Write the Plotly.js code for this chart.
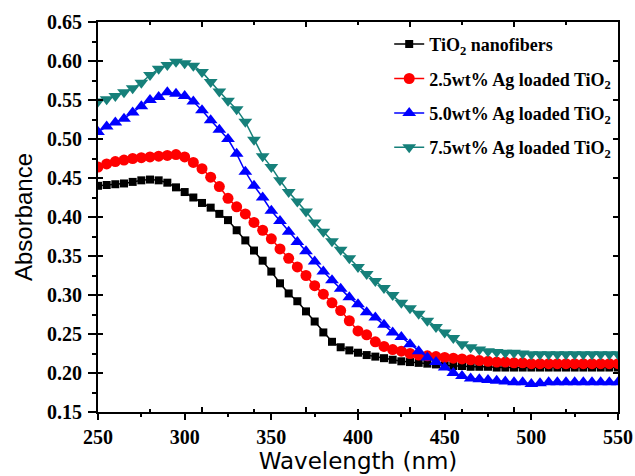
<!DOCTYPE html>
<html>
<head>
<meta charset="utf-8">
<script src="https://cdn.plot.ly/plotly-3.0.1.min.js"></script>
<style>
  html, body { margin: 0; padding: 0; background: #fff; }
  #chart { width: 635px; height: 476px; }
</style>
</head>
<body>
<div id="chart"></div>
<script>
const wavelength = [250,255,260,265,270,275,280,285,290,295,300,305,310,315,320,325,330,335,340,345,350,355,360,365,370,375,380,385,390,395,400,405,410,415,420,425,430,435,440,445,450,455,460,465,470,475,480,485,490,495,500,505,510,515,520,525,530,535,540,545,550];

const tio2 = [0.440,0.441,0.442,0.443,0.445,0.447,0.448,0.447,0.444,0.438,0.432,0.425,0.418,0.412,0.404,0.396,0.383,0.370,0.357,0.344,0.330,0.315,0.302,0.292,0.279,0.266,0.252,0.240,0.233,0.229,0.226,0.223,0.221,0.219,0.217,0.215,0.214,0.213,0.212,0.211,0.210,0.209,0.209,0.208,0.208,0.208,0.207,0.207,0.207,0.207,0.207,0.207,0.207,0.207,0.207,0.207,0.207,0.207,0.207,0.207,0.207];

const ag25 = [0.464,0.468,0.471,0.473,0.475,0.476,0.477,0.478,0.479,0.480,0.477,0.470,0.462,0.451,0.439,0.424,0.413,0.404,0.393,0.383,0.372,0.359,0.347,0.336,0.325,0.312,0.301,0.290,0.280,0.267,0.254,0.249,0.240,0.234,0.230,0.228,0.225,0.223,0.222,0.221,0.220,0.219,0.218,0.217,0.216,0.215,0.214,0.214,0.213,0.213,0.212,0.212,0.212,0.212,0.212,0.212,0.212,0.212,0.212,0.212,0.212];

const ag50 = [0.509,0.516,0.521,0.526,0.534,0.542,0.550,0.554,0.560,0.558,0.555,0.548,0.537,0.524,0.512,0.500,0.481,0.458,0.440,0.425,0.408,0.395,0.381,0.368,0.356,0.343,0.330,0.319,0.308,0.297,0.288,0.278,0.271,0.262,0.252,0.246,0.237,0.228,0.220,0.214,0.207,0.200,0.196,0.193,0.192,0.191,0.190,0.189,0.188,0.188,0.186,0.187,0.188,0.188,0.188,0.188,0.188,0.188,0.188,0.188,0.188];

const ag75 = [0.548,0.551,0.555,0.560,0.565,0.572,0.582,0.590,0.595,0.599,0.597,0.594,0.586,0.573,0.561,0.549,0.538,0.522,0.499,0.478,0.464,0.447,0.432,0.420,0.407,0.393,0.381,0.369,0.358,0.347,0.336,0.327,0.318,0.309,0.300,0.290,0.283,0.276,0.267,0.259,0.252,0.245,0.237,0.233,0.230,0.228,0.227,0.226,0.226,0.225,0.224,0.224,0.224,0.224,0.224,0.224,0.224,0.224,0.224,0.224,0.224];

const xTickValues = [250, 300, 350, 400, 450, 500, 550];
const xTickLabels = ['250', '300', '350', '400', '450', '500', '550'];
const yTickValues = [0.15, 0.20, 0.25, 0.30, 0.35, 0.40, 0.45, 0.50, 0.55, 0.60, 0.65];
const yTickLabels = ['0.15', '0.20', '0.25', '0.30', '0.35', '0.40', '0.45', '0.50', '0.55', '0.60', '0.65'];

const seriesNames = ['TiO<sub>2</sub> nanofibers', '2.5wt% Ag loaded TiO<sub>2</sub>', '5.0wt% Ag loaded TiO<sub>2</sub>', '7.5wt% Ag loaded TiO<sub>2</sub>'];
const seriesValues = [tio2, ag25, ag50, ag75];
const seriesColors = ['#000000', '#ff0000', '#0000ff', '#16807a'];
const seriesSymbols = ['square', 'circle', 'triangle-up', 'triangle-down'];
const seriesSizes = [8, 11, 12, 12];

const traces = seriesValues.map((vals, i) => ({
  x: wavelength,
  y: vals,
  name: '<b>' + seriesNames[i] + '</b>',
  legendgroup: 'g' + i,
  type: 'scatter',
  mode: 'lines+markers',
  line: { color: seriesColors[i], width: 1.5 },
  marker: { symbol: seriesSymbols[i], size: seriesSizes[i], color: seriesColors[i], line: { width: 0 } },
  xaxis: 'x', yaxis: 'y'
}));

const tickFont = { family: 'Liberation Serif, Times New Roman, serif', size: 20, color: '#000' };

const layout = {
  width: 635, height: 476,
  margin: { l: 98, r: 17, t: 22, b: 64 },
  paper_bgcolor: '#fff', plot_bgcolor: '#fff',
  showlegend: true,
  legend: {
    x: 0.56, y: 0.99, xanchor: 'left', yanchor: 'top',
    bgcolor: 'rgba(0,0,0,0)', borderwidth: 0,
    font: { family: 'Liberation Serif, Times New Roman, serif', size: 18, color: '#000' },
    tracegroupgap: 8,
    itemwidth: 30
  },
  xaxis: {
    range: [250, 550],
    tickmode: 'array', tickvals: xTickValues, ticktext: xTickLabels.map(t => '<b>' + t + '</b>'),
    ticks: 'outside', ticklen: 6, tickwidth: 2, tickcolor: '#000',
    minor: { dtick: 25, tick0: 250, ticks: 'outside', ticklen: 3, tickwidth: 2, tickcolor: '#000', showgrid: false },
    showline: true, linewidth: 2, linecolor: '#000', mirror: false,
    showgrid: false, zeroline: false,
    tickfont: tickFont,
    title: { text: 'Wavelength (nm)', font: { family: 'DejaVu Sans, sans-serif', size: 23, color: '#000' }, standoff: 6 }
  },
  xaxis2: {
    overlaying: 'x', anchor: 'y', side: 'top',
    range: [0, 5], dtick: 1, tick0: 0,
    ticks: 'inside', ticklen: 5, tickwidth: 2, tickcolor: '#000',
    minor: { dtick: 0.5, ticks: 'inside', ticklen: 3, tickwidth: 2, tickcolor: '#000', showgrid: false },
    showline: true, linewidth: 2, linecolor: '#000', mirror: 'ticks',
    showgrid: false, zeroline: false, showticklabels: false
  },
  yaxis: {
    range: [0.15, 0.65],
    tickmode: 'array', tickvals: yTickValues, ticktext: yTickLabels.map(t => '<b>' + t + '</b>'),
    ticks: 'outside', ticklen: 8, tickwidth: 2, tickcolor: '#000',
    minor: { dtick: 0.025, tick0: 0.15, ticks: 'outside', ticklen: 4, tickwidth: 2, tickcolor: '#000', showgrid: false },
    showline: true, linewidth: 2, linecolor: '#000', mirror: false,
    showgrid: false, zeroline: false,
    tickfont: tickFont,
    ticklabelstandoff: 2,
    title: { text: 'Absorbance', font: { family: 'Liberation Sans, Arial, sans-serif', size: 24, color: '#000' }, standoff: 8 }
  },
  yaxis2: {
    overlaying: 'y', anchor: 'x', side: 'left',
    range: [0.15, 0.65], dtick: 0.05, tick0: 0.15,
    ticks: 'inside', ticklen: 5, tickwidth: 2, tickcolor: '#000',
    showline: true, linewidth: 2, linecolor: '#000', mirror: 'ticks',
    showgrid: false, zeroline: false, showticklabels: false
  }
};

const helperTraces = [
  { x: [], y: [], xaxis: 'x2', yaxis: 'y', showlegend: false, hoverinfo: 'skip', type: 'scatter', mode: 'markers' },
  { x: [], y: [], xaxis: 'x', yaxis: 'y2', showlegend: false, hoverinfo: 'skip', type: 'scatter', mode: 'markers' }
];

Plotly.newPlot('chart', helperTraces.concat(traces), layout, { staticPlot: true, displayModeBar: false });
</script>
</body>
</html>
